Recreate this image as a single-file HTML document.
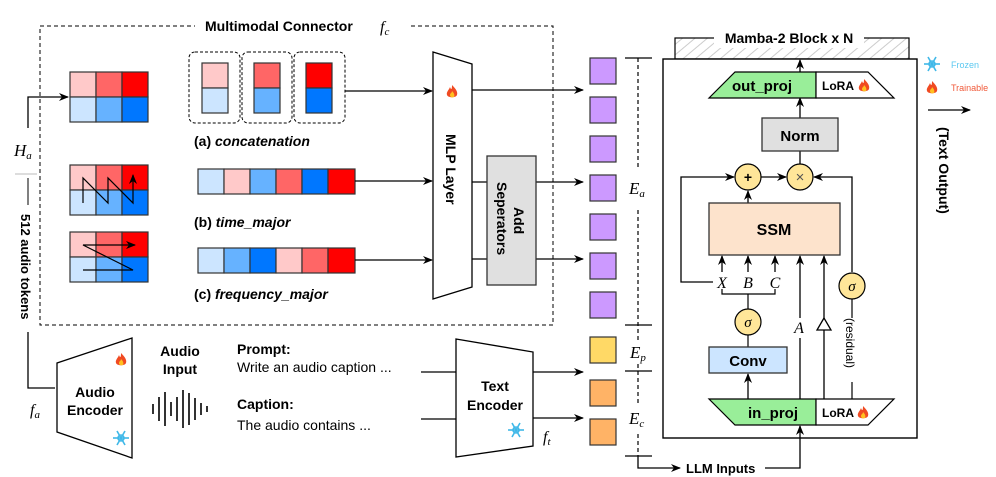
<!DOCTYPE html>
<html><head><meta charset="utf-8"><style>
html,body{margin:0;padding:0;background:#fff}
svg{display:block;font-family:"Liberation Sans",Arial,sans-serif}
.b{font-weight:bold}
.m{font-family:"Liberation Serif",serif;font-style:italic}
</style></head><body>
<svg width="996" height="477" viewBox="0 0 996 477">
<defs>
<marker id="ar" markerWidth="10" markerHeight="8" refX="9" refY="4" orient="auto" markerUnits="userSpaceOnUse"><path d="M0,0 L10,4 L0,8 L3,4 z" fill="#000"/></marker>
<pattern id="hatch" width="8" height="8" patternUnits="userSpaceOnUse" patternTransform="rotate(-40)"><line x1="0" y1="4" x2="8" y2="4" stroke="#ccc" stroke-width="1"/></pattern>
<g id="fire"><path d="M0,-7 C4,-3 6,0 5,3 C4,6 -4,6 -5,3 C-6,0 -3,-2 -2,-5 C-1,-2 0,-2 0,-7z" fill="#f04a22"/><path d="M0,-1 C2,1 3,3 2,5 C0,6 -2,5 -2,3 C-2,1 0,1 0,-1z" fill="#ffc020"/></g>
<g id="snow" stroke="#3fb8e8" stroke-width="1.6" fill="none"><line x1="-8" y1="0" x2="8" y2="0"/><line x1="-4" y1="-7" x2="4" y2="7"/><line x1="-4" y1="7" x2="4" y2="-7"/><circle r="3"/></g>
</defs>

<!-- connector dashed box -->
<rect x="40" y="26" width="513" height="299" fill="none" stroke="#000" stroke-dasharray="4,3"/>
<rect x="195" y="16" width="215" height="20" fill="#fff"/>
<text x="205" y="31" class="b" font-size="14">Multimodal Connector</text>
<text x="380" y="32" class="m" font-size="16">f<tspan font-size="11" dy="3">c</tspan></text>

<!-- H_a -->
<polyline points="28,128 28,97 68,97" fill="none" stroke="#000" stroke-width="1.3" marker-end="url(#ar)"/>
<text x="14" y="156" class="m" font-size="17">H<tspan font-size="11" dy="3">a</tspan></text>
<line x1="15" y1="174" x2="37" y2="174" stroke="#bbb"/>
<line x1="28" y1="178" x2="28" y2="205" stroke="#000"/>
<text transform="translate(21,214) rotate(90)" class="b" font-size="13">512 audio tokens</text>
<polyline points="28,332 28,388 55,388" fill="none" stroke="#000" stroke-width="1.3"/>

<!-- grids -->
<g stroke="#333" stroke-width="1.2">
<g transform="translate(70,72)">
<rect x="0" y="0" width="26" height="25" fill="#ffc9c9"/><rect x="26" y="0" width="26" height="25" fill="#ff6666"/><rect x="52" y="0" width="26" height="25" fill="#ff0000"/>
<rect x="0" y="25" width="26" height="25" fill="#cce5ff"/><rect x="26" y="25" width="26" height="25" fill="#66b2ff"/><rect x="52" y="25" width="26" height="25" fill="#0077ff"/>
</g>
<g transform="translate(70,165)">
<rect x="0" y="0" width="26" height="25" fill="#ffc9c9"/><rect x="26" y="0" width="26" height="25" fill="#ff6666"/><rect x="52" y="0" width="26" height="25" fill="#ff0000"/>
<rect x="0" y="25" width="26" height="25" fill="#cce5ff"/><rect x="26" y="25" width="26" height="25" fill="#66b2ff"/><rect x="52" y="25" width="26" height="25" fill="#0077ff"/>
</g>
<g transform="translate(70,232)">
<rect x="0" y="0" width="26" height="25" fill="#ffc9c9"/><rect x="26" y="0" width="26" height="25" fill="#ff6666"/><rect x="52" y="0" width="26" height="25" fill="#ff0000"/>
<rect x="0" y="25" width="26" height="25" fill="#cce5ff"/><rect x="26" y="25" width="26" height="25" fill="#66b2ff"/><rect x="52" y="25" width="26" height="25" fill="#0077ff"/>
</g>
</g>
<polyline points="83,203 83,178 108,203 108,178 133,203 133,175" fill="none" stroke="#000" stroke-width="1.2" marker-end="url(#ar)"/>
<polyline points="83,270 133,270 83,245 135,245" fill="none" stroke="#000" stroke-width="1.2" marker-end="url(#ar)"/>

<!-- concat -->
<g fill="none" stroke="#000" stroke-dasharray="3,2">
<rect x="189" y="52" width="51" height="71" rx="6"/><rect x="242" y="52" width="50" height="71" rx="6"/><rect x="294" y="52" width="51" height="71" rx="6"/>
</g>
<g stroke="#333" stroke-width="1.2">
<rect x="202" y="63" width="26" height="25" fill="#ffc9c9"/><rect x="202" y="88" width="26" height="25" fill="#cce5ff"/>
<rect x="254" y="63" width="26" height="25" fill="#ff6666"/><rect x="254" y="88" width="26" height="25" fill="#66b2ff"/>
<rect x="306" y="63" width="26" height="25" fill="#ff0000"/><rect x="306" y="88" width="26" height="25" fill="#0077ff"/>
</g>
<text x="194" y="146" class="b" font-size="14">(a) <tspan font-style="italic">concatenation</tspan></text>

<g stroke="#333" stroke-width="1.2">
<rect x="198" y="169" width="26" height="25" fill="#cce5ff"/><rect x="224" y="169" width="26" height="25" fill="#ffc9c9"/><rect x="250" y="169" width="26" height="25" fill="#66b2ff"/><rect x="276" y="169" width="26" height="25" fill="#ff6666"/><rect x="302" y="169" width="26" height="25" fill="#0077ff"/><rect x="328" y="169" width="27" height="25" fill="#ff0000"/>
<rect x="198" y="248" width="26" height="25" fill="#cce5ff"/><rect x="224" y="248" width="26" height="25" fill="#66b2ff"/><rect x="250" y="248" width="26" height="25" fill="#0077ff"/><rect x="276" y="248" width="26" height="25" fill="#ffc9c9"/><rect x="302" y="248" width="26" height="25" fill="#ff6666"/><rect x="328" y="248" width="27" height="25" fill="#ff0000"/>
</g>
<text x="194" y="227" class="b" font-size="14">(b) <tspan font-style="italic">time_major</tspan></text>
<text x="194" y="299" class="b" font-size="14">(c) <tspan font-style="italic">frequency_major</tspan></text>

<g stroke="#000" stroke-width="1.3" fill="none" marker-end="url(#ar)">
<line x1="345" y1="91" x2="432" y2="91"/>
<line x1="355" y1="181" x2="432" y2="181"/>
<line x1="355" y1="260" x2="432" y2="260"/>
<line x1="472" y1="90" x2="583" y2="90"/>
<line x1="472" y1="182" x2="583" y2="182"/>
<line x1="472" y1="259" x2="583" y2="259"/>
</g>
<!-- MLP -->
<polygon points="433,52 472,64 472,287 433,299" fill="#fff" stroke="#000" stroke-width="1.3"/>
<use href="#fire" x="452" y="92"/>
<text transform="translate(446,134) rotate(90)" class="b" font-size="14">MLP Layer</text>
<rect x="487" y="156" width="49" height="129" fill="#e0e0e0" stroke="#333" stroke-width="1.3"/>
<text transform="translate(514,207) rotate(90)" class="b" font-size="14">Add</text>
<text transform="translate(497,182) rotate(90)" class="b" font-size="14">Seperators</text>

<!-- tokens -->
<g stroke="#333" stroke-width="1.2">
<rect x="590" y="58" width="26" height="26" fill="#cc99ff"/><rect x="590" y="97" width="26" height="26" fill="#cc99ff"/><rect x="590" y="136" width="26" height="26" fill="#cc99ff"/><rect x="590" y="175" width="26" height="26" fill="#cc99ff"/><rect x="590" y="214" width="26" height="26" fill="#cc99ff"/><rect x="590" y="253" width="26" height="26" fill="#cc99ff"/><rect x="590" y="292" width="26" height="26" fill="#cc99ff"/>
<rect x="590" y="337" width="26" height="26" fill="#ffd966"/>
<rect x="590" y="380" width="26" height="26" fill="#ffb366"/><rect x="590" y="419" width="26" height="26" fill="#ffb366"/>
</g>
<g stroke="#000" stroke-width="1.2">
<line x1="638" y1="58" x2="638" y2="170" stroke-dasharray="4,3"/><line x1="638" y1="210" x2="638" y2="456" stroke-dasharray="4,3"/>
<line x1="625" y1="58" x2="652" y2="58"/><line x1="625" y1="325" x2="652" y2="325"/><line x1="625" y1="371" x2="652" y2="371"/><line x1="625" y1="456" x2="652" y2="456"/>
</g>
<rect x="630" y="174" width="20" height="28" fill="#fff"/><rect x="630" y="340" width="22" height="24" fill="#fff"/><rect x="630" y="405" width="20" height="26" fill="#fff"/>
<text x="629" y="194" class="m" font-size="17">E<tspan font-size="11" dy="3">a</tspan></text>
<text x="630" y="358" class="m" font-size="17">E<tspan font-size="11" dy="3">p</tspan></text>
<text x="629" y="424" class="m" font-size="17">E<tspan font-size="11" dy="3">c</tspan></text>

<!-- Mamba -->
<rect x="675" y="38" width="234" height="21" fill="url(#hatch)" stroke="#000" stroke-width="1.2"/>
<rect x="714" y="28" width="150" height="20" fill="#fff"/>
<text x="789" y="43" text-anchor="middle" class="b" font-size="14">Mamba-2 Block x N</text>
<rect x="663" y="59" width="254" height="379" fill="#fff" stroke="#000" stroke-width="1.4"/>

<g stroke="#000" stroke-width="1.3" fill="none" marker-end="url(#ar)">
<line x1="800" y1="72" x2="800" y2="60"/>
<line x1="800" y1="118" x2="800" y2="98"/>
<line x1="761" y1="177" x2="786" y2="177"/>
<line x1="748" y1="203" x2="748" y2="191"/>
<polyline points="713,282 681,282 681,177 734,177"/>
<polyline points="852,272 852,177 814,177"/>
<line x1="722" y1="272" x2="722" y2="256"/>
<line x1="748" y1="272" x2="748" y2="256"/>
<line x1="775" y1="272" x2="775" y2="256"/>
<line x1="800" y1="399" x2="800" y2="256"/>
<line x1="824" y1="399" x2="824" y2="256"/>
<line x1="748" y1="399" x2="748" y2="374"/>
<polyline points="638,456 638,468 680,468"/>
<polyline points="765,468 800,468 800,426"/>
<line x1="928" y1="110" x2="970" y2="110"/>
</g>
<line x1="800" y1="151" x2="800" y2="164" stroke="#000" stroke-width="1.3"/>
<polyline points="722,287 722,294 775,294 775,287" fill="none" stroke="#000" stroke-width="1.2"/>
<line x1="748" y1="294" x2="748" y2="309" stroke="#000" stroke-width="1.2"/>
<line x1="748" y1="335" x2="748" y2="347" stroke="#000" stroke-width="1.2"/>
<line x1="852" y1="299" x2="852" y2="399" stroke="#000" stroke-width="1.2"/>
<polygon points="709,98 735,72 816,72 816,98" fill="#99ee99" stroke="#000" stroke-width="1.2"/>
<polygon points="816,72 868,72 894,98 816,98" fill="#fff" stroke="#000" stroke-width="1.2"/>
<text x="762" y="91" text-anchor="middle" class="b" font-size="15">out_proj</text>
<text x="822" y="90" class="b" font-size="12">LoRA</text><use href="#fire" x="864" y="86"/>
<rect x="762" y="118" width="76" height="33" fill="#e0e0e0" stroke="#333" stroke-width="1.3"/>
<text x="800" y="141" text-anchor="middle" class="b" font-size="15">Norm</text>
<circle cx="748" cy="177" r="13" fill="#ffe699" stroke="#000" stroke-width="1.2"/>
<text x="748" y="182" text-anchor="middle" class="b" font-size="14">+</text>
<circle cx="800" cy="177" r="13" fill="#ffe699" stroke="#000" stroke-width="1.2"/>
<text x="800" y="182" text-anchor="middle" font-size="15" fill="#555">×</text>
<rect x="709" y="203" width="131" height="52" fill="#fde3cc" stroke="#333" stroke-width="1.3"/>
<text x="774" y="235" text-anchor="middle" class="b" font-size="16">SSM</text>
<rect x="714" y="273" width="70" height="16" fill="#fff"/>
<text x="722" y="288" text-anchor="middle" class="m" font-size="16">X</text>
<text x="748" y="288" text-anchor="middle" class="m" font-size="16">B</text>
<text x="775" y="288" text-anchor="middle" class="m" font-size="16">C</text>
<circle cx="748" cy="322" r="13" fill="#ffe699" stroke="#000" stroke-width="1.2"/>
<text x="748" y="327" text-anchor="middle" class="m" font-size="15">σ</text>
<circle cx="852" cy="286" r="13" fill="#ffe699" stroke="#000" stroke-width="1.2"/>
<text x="852" y="291" text-anchor="middle" class="m" font-size="15">σ</text>
<rect x="792" y="318" width="16" height="20" fill="#fff"/>
<text x="799" y="333" text-anchor="middle" class="m" font-size="16">A</text>
<polygon points="824,318 817,330 831,330" fill="#fff" stroke="#000" stroke-width="1.3"/>
<rect x="845" y="318" width="14" height="64" fill="#fff"/>
<text transform="translate(846,318) rotate(90)" font-size="12">(residual)</text>
<rect x="709" y="347" width="78" height="26" fill="#cce5ff" stroke="#333" stroke-width="1.3"/>
<text x="748" y="366" text-anchor="middle" class="b" font-size="15">Conv</text>
<polygon points="709,399 816,399 816,425 735,425" fill="#99ee99" stroke="#000" stroke-width="1.2"/>
<polygon points="816,399 894,399 868,425 816,425" fill="#fff" stroke="#000" stroke-width="1.2"/>
<text x="773" y="418" text-anchor="middle" class="b" font-size="15">in_proj</text>
<text x="822" y="417" class="b" font-size="12">LoRA</text><use href="#fire" x="863" y="413"/>
<text x="686" y="473" class="b" font-size="13">LLM Inputs</text>

<!-- legend -->
<use href="#snow" x="932" y="64"/><text x="951" y="68" font-size="9" fill="#5bc8f0">Frozen</text>
<use href="#fire" x="932" y="88"/><text x="951" y="91" font-size="9" fill="#f05a3a">Trainable</text>
<text transform="translate(939,127) rotate(90)" class="b" font-size="14">(Text Output)</text>

<!-- bottom left -->
<polygon points="57,363 132,338 132,458 57,432" fill="#fff" stroke="#000" stroke-width="1.3"/>
<text x="95" y="397" text-anchor="middle" class="b" font-size="14">Audio</text>
<text x="95" y="415" text-anchor="middle" class="b" font-size="14">Encoder</text>
<use href="#fire" x="121" y="360"/><use href="#snow" x="121" y="438"/>
<text x="30" y="415" class="m" font-size="16">f<tspan font-size="11" dy="3">a</tspan></text>
<text x="180" y="356" text-anchor="middle" class="b" font-size="14">Audio</text>
<text x="180" y="374" text-anchor="middle" class="b" font-size="14">Input</text>
<g stroke="#000" stroke-width="1.6">
<line x1="153" y1="404" x2="153" y2="414"/><line x1="159" y1="397" x2="159" y2="421"/><line x1="165" y1="392" x2="165" y2="426"/><line x1="171" y1="402" x2="171" y2="416"/><line x1="177" y1="397" x2="177" y2="421"/><line x1="183" y1="390" x2="183" y2="428"/><line x1="189" y1="393" x2="189" y2="425"/><line x1="195" y1="398" x2="195" y2="420"/><line x1="201" y1="403" x2="201" y2="415"/><line x1="207" y1="406" x2="207" y2="412"/>
</g>
<text x="237" y="354" class="b" font-size="14">Prompt:</text>
<text x="237" y="372" font-size="14">Write an audio caption ...</text>
<text x="237" y="409" class="b" font-size="14">Caption:</text>
<text x="237" y="430" font-size="14">The audio contains ...</text>
<line x1="421" y1="372" x2="456" y2="372" stroke="#000" stroke-width="1.3"/>
<line x1="421" y1="419" x2="456" y2="419" stroke="#000" stroke-width="1.3"/>
<polygon points="456,339 533,352 533,446 456,457" fill="#fff" stroke="#000" stroke-width="1.3"/>
<text x="495" y="391" text-anchor="middle" class="b" font-size="14">Text</text>
<text x="495" y="410" text-anchor="middle" class="b" font-size="14">Encoder</text>
<use href="#snow" x="516" y="430"/>
<text x="543" y="442" class="m" font-size="16">f<tspan font-size="11" dy="3">t</tspan></text>
<g stroke="#000" stroke-width="1.3" marker-end="url(#ar)">
<line x1="533" y1="372" x2="583" y2="372"/><line x1="533" y1="418" x2="583" y2="418"/>
</g>
</svg>
</body></html>
